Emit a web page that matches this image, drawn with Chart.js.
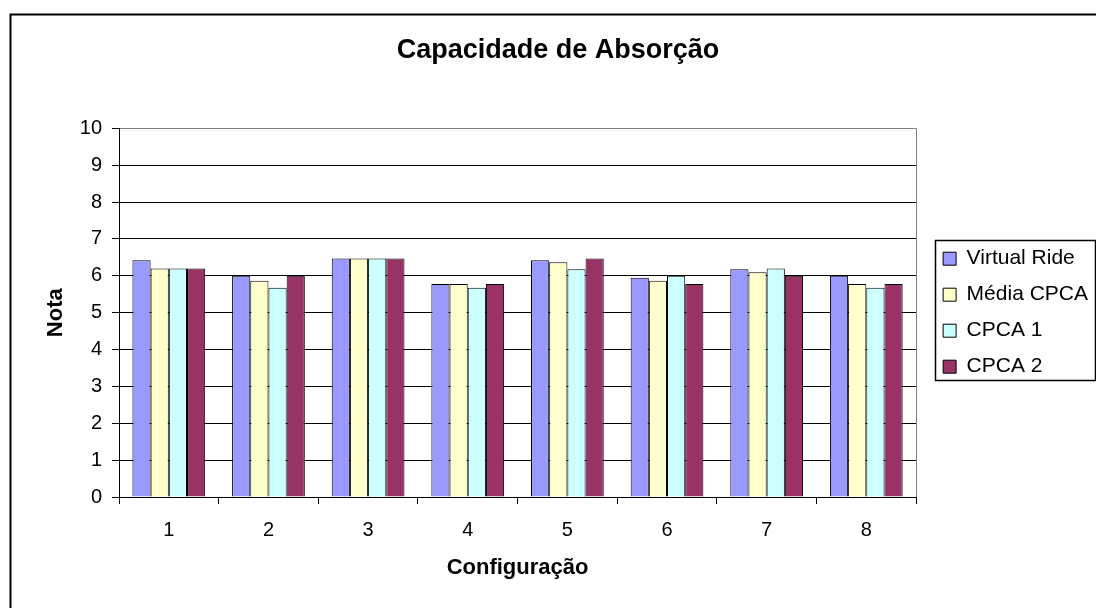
<!DOCTYPE html>
<html>
<head>
<meta charset="utf-8">
<script src="https://cdn.jsdelivr.net/npm/chart.js@4/dist/chart.umd.min.js"></script>
<style>
  body { margin: 0; background: #fff; }
  #wrap { width: 1096px; height: 608px; }
</style>
</head>
<body>
<div id="wrap"><canvas id="absorcao" width="1096" height="608"></canvas></div>
<script>
// Data
const categories = ['1', '2', '3', '4', '5', '6', '7', '8'];
const virtualRide = [6.42, 6.0, 6.47, 5.78, 6.42, 5.95, 6.18, 6.0];
const mediaCPCA = [6.2, 5.87, 6.47, 5.78, 6.37, 5.87, 6.1, 5.78];
const cpca1 = [6.2, 5.68, 6.47, 5.68, 6.18, 6.0, 6.2, 5.68];
const cpca2 = [6.2, 6.0, 6.47, 5.78, 6.47, 5.78, 6.0, 5.78];
const yTicks = [0, 1, 2, 3, 4, 5, 6, 7, 8, 9, 10];

const fontFamily = 'Arial, "Liberation Sans", sans-serif';
const legendPad = 15;

// Outer frame, plot border and legend frame
const framePlugin = {
  id: 'frames',
  afterLayout(chart) {
    // leave a gap between the plot and the legend
    chart.legend.left += 12;
    chart.legend.right += 12;
  },
  beforeDraw(chart) {
    const ctx = chart.ctx;
    ctx.save();
    ctx.fillStyle = '#fff';
    ctx.fillRect(0, 0, chart.width, chart.height);
    ctx.restore();
  },
  afterDraw(chart) {
    const ctx = chart.ctx;
    const area = chart.chartArea;
    ctx.save();
    // outer chart frame (runs off right and bottom)
    ctx.strokeStyle = '#000';
    ctx.lineWidth = 2;
    ctx.strokeRect(10.5, 14.5, 1100, 620);
    // plot area right border in grey
    ctx.strokeStyle = '#808080';
    ctx.lineWidth = 1;
    ctx.beginPath();
    ctx.moveTo(Math.round(area.right) + 0.5, area.top);
    ctx.lineTo(Math.round(area.right) + 0.5, area.bottom);
    ctx.stroke();
    // legend frame
    const boxes = chart.legend.legendHitBoxes;
    if (boxes && boxes.length) {
      const first = boxes[0];
      const last = boxes[boxes.length - 1];
      const top = first.top + first.height / 2 - 19;
      const bottom = last.top + last.height / 2 + 13;
      const left = chart.legend.left + legendPad - 8;
      ctx.strokeStyle = '#000';
      ctx.lineWidth = 1.5;
      ctx.strokeRect(Math.round(left) + 0.5, Math.round(top) + 0.5, 1095 - Math.round(left), Math.round(bottom - top));
    }
    ctx.restore();
  }
};

const dataAbsorcao = {
  labels: categories,
  datasets: [{
    label: 'Virtual Ride',
    data: virtualRide,
    backgroundColor: '#9999FF'
  }, {
    label: 'Média CPCA',
    data: mediaCPCA,
    backgroundColor: '#FFFFCC'
  }, {
    label: 'CPCA 1',
    data: cpca1,
    backgroundColor: '#CCFFFF'
  }, {
    label: 'CPCA 2',
    data: cpca2,
    backgroundColor: '#993366'
  }]
};
dataAbsorcao.datasets.forEach(ds => {
  ds.borderColor = '#000';
  ds.borderWidth = 1;
  ds.categoryPercentage = 0.73;
  ds.barPercentage = 1.0;
});

const configAbsorcao = {
  type: 'bar',
  data: dataAbsorcao,
  plugins: [framePlugin],
  options: {
    responsive: false,
    animation: false,
    layout: {
      padding: { left: 30, right: 10, top: 14, bottom: 14 }
    },
    plugins: {
      title: {
        display: true,
        text: 'Capacidade de Absorção',
        color: '#000',
        font: { family: fontFamily, size: 27, weight: 'bold' },
        padding: { top: 20, bottom: 62 }
      },
      legend: {
        position: 'right',
        fullSize: false,
        labels: {
          color: '#000',
          boxWidth: 13,
          boxHeight: 13,
          padding: legendPad,
          font: { family: fontFamily, size: 21 }
        }
      },
      tooltip: { enabled: false }
    },
    scales: {
      x: {
        grid: {
          offset: true,
          drawOnChartArea: false,
          drawTicks: true,
          tickLength: 7,
          color: '#000'
        },
        border: { color: '#000', width: 1 },
        ticks: {
          color: '#000',
          padding: 14,
          font: { family: fontFamily, size: 20 }
        },
        title: {
          display: true,
          text: 'Configuração',
          color: '#000',
          font: { family: fontFamily, size: 22, weight: 'bold' },
          padding: { top: 0, bottom: 13 }
        },
        afterFit: function (scale) { scale.height = 97; }
      },
      y: {
        min: 0,
        max: 10,
        afterBuildTicks: function (scale) {
          scale.ticks = yTicks.map(v => ({ value: v }));
        },
        grid: {
          color: function (c) { return c.tick && c.tick.value === 10 ? '#808080' : '#000'; },
          tickColor: '#000',
          tickLength: 7
        },
        border: { color: '#000', width: 1 },
        ticks: {
          color: '#000',
          padding: 10,
          font: { family: fontFamily, size: 20 }
        },
        title: {
          display: true,
          text: 'Nota',
          color: '#000',
          font: { family: fontFamily, size: 22, weight: 'bold' },
          padding: { top: 13, bottom: 0 }
        },
        afterFit: function (scale) { scale.width = 89; }
      }
    }
  }
};

const absorcaoBar = new Chart(document.getElementById('absorcao'), configAbsorcao);
</script>
</body>
</html>
